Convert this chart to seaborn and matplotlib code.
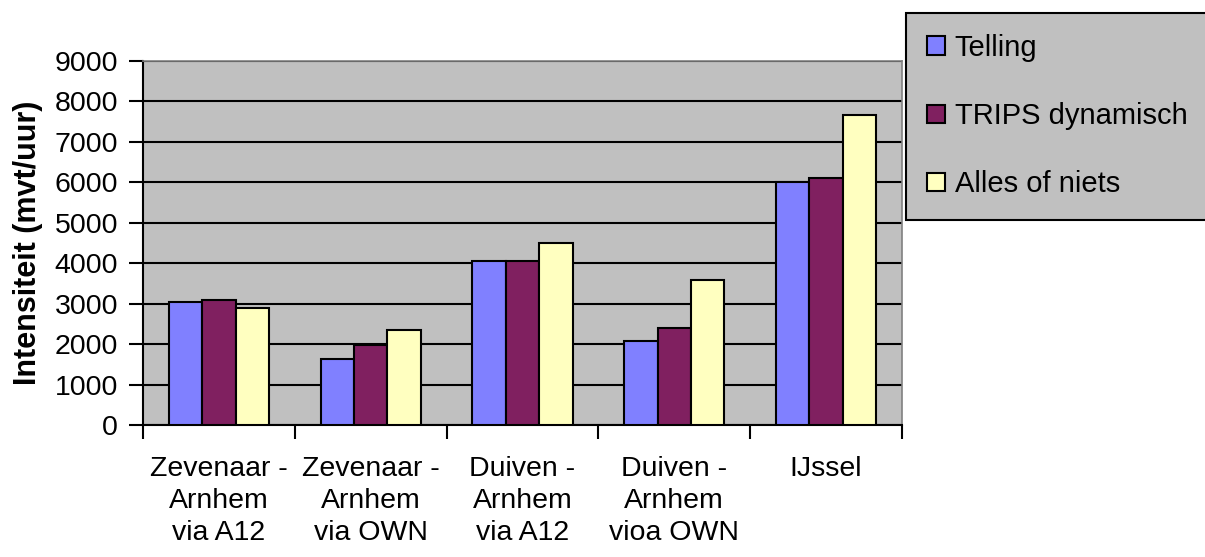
import matplotlib
matplotlib.use("Agg")
import matplotlib.pyplot as plt
import seaborn as sns
import pandas as pd
from matplotlib.ticker import FixedLocator

routes = ["Zevenaar -\nArnhem\nvia A12", "Zevenaar -\nArnhem\nvia OWN",
          "Duiven -\nArnhem\nvia A12", "Duiven -\nArnhem\nvioa OWN", "IJssel"]
series = ["Telling", "TRIPS dynamisch", "Alles of niets"]
telling = [3030, 1640, 4050, 2080, 6000]
trips = [3090, 1990, 4050, 2390, 6100]
alles = [2890, 2350, 4500, 3580, 7670]
yticks = [0, 1000, 2000, 3000, 4000, 5000, 6000, 7000, 8000, 9000]
colors = ["#8080FF", "#802060", "#FFFFC0"]

df = pd.DataFrame({
    "route": routes * 3,
    "series": [series[0]] * 5 + [series[1]] * 5 + [series[2]] * 5,
    "value": telling + trips + alles,
})

sns.set_style("white")
plt.rcParams["font.family"] = ["Liberation Sans", "DejaVu Sans"]
plt.rcParams["text.color"] = "black"
plt.rcParams["axes.labelcolor"] = "black"
plt.rcParams["xtick.color"] = "black"
plt.rcParams["ytick.color"] = "black"

fig = plt.figure(figsize=(12.05, 5.57), dpi=100)
ax = fig.add_axes([143 / 1205, 1 - 425 / 557, (902 - 143) / 1205, (425 - 61) / 557])
ax.set_facecolor("#C0C0C0")

sns.barplot(data=df, x="route", y="value", hue="series", palette=colors,
            width=0.66, gap=0, edgecolor="black", linewidth=1.5,
            saturation=1, errorbar=None, ax=ax, zorder=3)

ax.set_ylim(0, 9000)
ax.set_xlim(-0.5, 4.5)
ax.set_yticks(yticks)
ax.yaxis.grid(True, color="black", linewidth=1.5, zorder=1)
ax.set_axisbelow(True)
ax.tick_params(axis="y", labelsize=20.5, length=10, width=1.5, color="black",
               direction="out", pad=8, left=True)
ax.set_xticks(range(len(routes)), routes, linespacing=1.3)
ax.tick_params(axis="x", which="major", length=0, labelsize=20.5, pad=22)
ax.xaxis.set_minor_locator(FixedLocator([-0.5, 0.5, 1.5, 2.5, 3.5, 4.5]))
ax.tick_params(axis="x", which="minor", length=10, width=1.5, color="black",
               direction="out", bottom=True)

ax.set_xlabel("")
ax.set_ylabel("Intensiteit (mvt/uur)", fontsize=22, fontweight="bold", labelpad=8)

for side in ("left", "bottom"):
    ax.spines[side].set_color("black")
    ax.spines[side].set_linewidth(1.5)
for side in ("top", "right"):
    ax.spines[side].set_visible(True)
    ax.spines[side].set_color("#808080")
    ax.spines[side].set_linewidth(1.2)

ax.legend_.remove()
handles, labels = ax.get_legend_handles_labels()
leg = fig.legend(handles, labels, loc="upper left",
                 bbox_to_anchor=(906 / 1205, 1 - 13 / 557),
                 bbox_transform=fig.transFigure, fontsize=21,
                 frameon=True, fancybox=False, borderaxespad=0,
                 handlelength=0.6, handleheight=0.6, handletextpad=0.35,
                 labelspacing=1.38, borderpad=0.72)
frame = leg.get_frame()
frame.set_facecolor("#C0C0C0")
frame.set_edgecolor("black")
frame.set_linewidth(1.5)
frame.set_alpha(1)

fig.savefig("out.png", dpi=100, facecolor="white")
